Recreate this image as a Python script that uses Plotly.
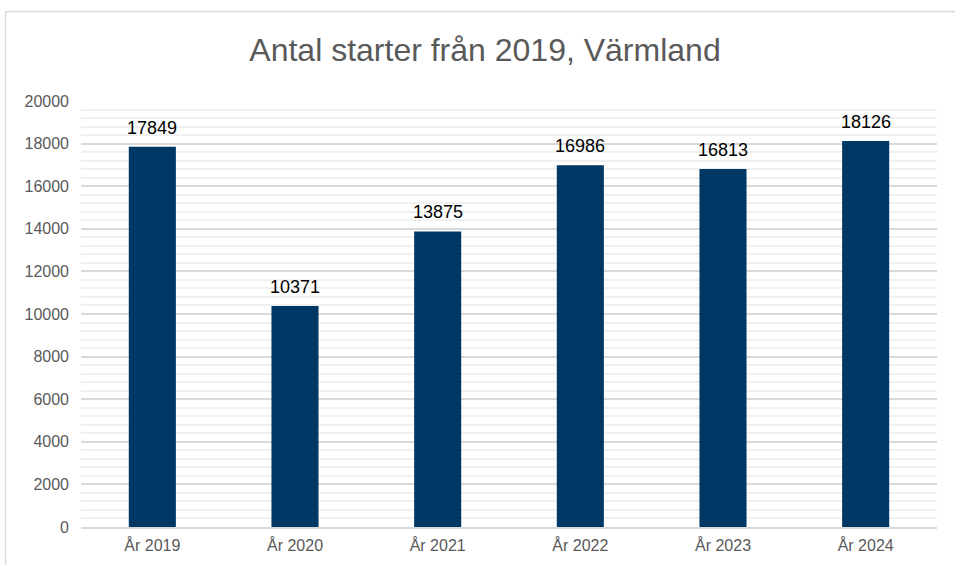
import plotly.graph_objects as go

categories = ["År 2019", "År 2020", "År 2021", "År 2022", "År 2023", "År 2024"]
values = [17849, 10371, 13875, 16986, 16813, 18126]
title_text = "Antal starter från 2019, Värmland"

W, H = 955, 565
L, R, T, B = 81, 18, 101, 38
pw, ph = W - L - R, H - T - B

def px_x(p):
    return (p - L) / pw

def px_y(p):
    return (H - B - p) / ph

fig = go.Figure()
fig.add_trace(go.Bar(
    x=categories, y=values,
    marker=dict(color="#003865", line=dict(width=0)),
    hoverinfo="x+y",
))

annotations = [
    dict(x=c, y=v, xref="x", yref="y", text=str(v), showarrow=False,
         yanchor="bottom", yshift=7,
         font=dict(family="Liberation Sans, Arial", size=18, color="#000000"))
    for c, v in zip(categories, values)
]

fig.update_layout(
    width=W, height=H,
    margin=dict(l=L, r=R, t=T, b=B, autoexpand=False),
    paper_bgcolor="white", plot_bgcolor="white",
    bargap=0.67,
    showlegend=False,
    title=dict(text=title_text, x=485 / W, xanchor="center", y=1 - 50 / H, yanchor="middle",
               font=dict(family="Liberation Sans, Arial", size=32, color="#595959")),
    font=dict(family="Liberation Sans, Arial", color="#595959", size=16),
    xaxis=dict(showgrid=False, showline=True, linecolor="#d9d9d9", linewidth=2,
               ticks="", automargin=False, ticklabelstandoff=3,
               tickfont=dict(size=16, color="#595959")),
    yaxis=dict(range=[0, 20000], dtick=2000, tickformat="d", showgrid=True,
               gridcolor="#d9d9d9", gridwidth=2,
               zeroline=False, showline=False, ticks="", ticklabelstandoff=11,
               automargin=False,
               tickfont=dict(size=16, color="#595959"),
               minor=dict(dtick=400, showgrid=True, gridcolor="#f0f0f0", gridwidth=1.5)),
    annotations=annotations,
    shapes=[
        dict(type="line", xref="paper", yref="paper", x0=px_x(5.5), x1=px_x(W + 5), y0=px_y(11.5), y1=px_y(11.5),
             line=dict(color="#d9d9d9", width=1.5)),
        dict(type="line", xref="paper", yref="paper", x0=px_x(5.5), x1=px_x(5.5), y0=px_y(11.5), y1=px_y(H + 5),
             line=dict(color="#d9d9d9", width=1.5)),
    ],
)

fig.write_html("out.html", config={"displayModeBar": False},
               post_script="document.body.style.margin='0';document.body.style.overflow='hidden';")
